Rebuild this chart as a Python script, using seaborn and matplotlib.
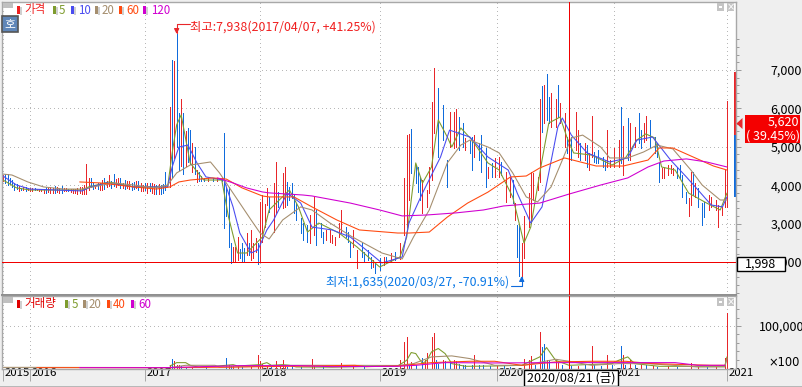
import seaborn as sns
import matplotlib.pyplot as plt
import matplotlib.patches as mp
from matplotlib.transforms import ScaledTranslation
import pandas as pd

W, H = 803, 387

# weekly bars: (week, high, low, up?)
bars_2015 = [(0,4260,4100,1),(1,4280,4060,0),(2,4280,4000,0),(3,4200,4040,0),(4,4130,3960,0),(5,4060,3880,0),
             (6,4040,3900,0),(7,3980,3850,1),(8,3940,3880,0),(9,3960,3880,1),(10,3960,3860,0),(11,3930,3880,1)]
highs_2016 = [3930,3920,3920,3900,3910,3910,3910,3960,3930,3950,3920,3970,3960,3940,3990,3930,3930,3900,3910,3900,3910,3930,3950,3950,4000,
              4560,4200,4200,4050,4000,4050,4060,4130,4180,4100,4270,4120,4280,4150,4180,4180,4050,4130,4110,4100,4050,4080,4100,4100,4060]
lows_2016 = [3860,3860,3870,3870,3860,3840,3810,3800,3830,3790,3810,3800,3830,3800,3800,3840,3850,3850,3830,3790,3790,3770,3790,3780,3760,
             3770,3870,3950,3900,3940,3900,3870,3880,3900,3950,3980,3930,3970,3950,4000,3930,3920,3900,3940,3900,3880,3900,3920,3880,3860]
dirs_2016 = [1,1,0,1,1,1,1,0,1,1,1,0,1,1,0,1,1,0,1,1,1,1,1,1,1,
             1,1,0,0,1,0,1,1,0,1,1,0,0,1,1,0,1,0,1,1,0,0,1,0,1]
bars_2017 = [(62,4000,3840,1),(63,4070,3880,0),(64,4050,3800,1),(65,4060,3850,0),(66,4050,3800,1),(67,4020,3760,1),
             (68,4000,3780,0),(69,4040,3760,1),(70,4010,3780,0),(71,4040,3790,0),(72,4350,3880,0),
             (74,6040,3950,1),(75,7260,4200,0),(76,7234,4700,1),(77,7938,5000,0),(78,5880,4400,0),(79,6245,4500,1),
             (80,5880,4300,0),(81,5400,4500,1),(82,5500,4600,0),(83,5450,4550,0),(84,5100,4350,1),(85,5000,4300,0),
             (86,4400,4090,1),(87,4350,4100,0),(88,4250,4100,0),
             (89,4180,4120,0),(91,4180,4120,1),(93,4180,4120,0),(95,4180,4120,1),(97,4180,4120,0),
             (98,5360,2880,0),(99,3950,3200,0),(100,3950,2390,0),(101,2490,1980,0),(102,2400,2030,1),(103,2380,2000,1),
             (104,2650,2050,1),(105,2350,2100,0),(106,2500,2000,0),(107,2360,2010,0),(108,2760,2190,1),(109,2500,2170,0),
             (110,2830,2050,1),(111,2500,2100,1),(112,2620,2260,1),(113,2500,1960,0),(114,3560,2030,1),(115,3740,2520,1),
             (116,3500,2900,1),(117,3930,3480,1)]
bars_2018 = [(118,3700,3310,0),(120,4055,2780,1),(121,4600,3280,1),(122,3820,3430,0),(124,4320,3400,1),(125,4470,3430,1),
             (126,4080,3480,0),(127,3955,3610,0),(128,4055,3670,0),(129,3745,3280,0),(130,3535,3095,0),(132,3145,2755,0),
             (133,3015,2575,0),(135,2965,2520,0),(136,3225,2495,1),(138,3695,2705,1),(139,3355,2445,0),(141,3015,2650,0),
             (142,2780,2495,0),(143,2835,2575,1),(145,2835,2520,1),(146,2705,2495,1),(147,2650,2445,1),(149,3015,2650,1),
             (150,3355,2755,1),(152,2910,2650,0),(153,2780,2520,0),(154,2520,2130,0),(155,2835,2390,1),(157,2310,1845,1),
             (159,2495,2130,0),(160,2260,2000,0),(162,2310,2050,0),(163,2130,1845,0),(164,2050,1870,1),(165,1975,1710,0),
             (167,2105,1790,0),(169,2130,1920,1),(170,2130,1975,0),(172,2235,2000,1),(174,2260,2050,0),(176,2495,2080,1)]
bars_2019 = [(178,4190,2705,1),(179,5305,2910,1),(180,5335,3615,1),(181,5460,4320,0),(183,4525,4055,0),(184,4470,3820,0),
             (185,4215,3615,0),(186,4135,3280,1),(188,3875,3430,1),(189,4470,3795,1),(190,6165,4135,1),(191,7050,5360,1),
             (193,6530,4735,0),(195,6090,5175,0),(197,4655,3955,0),(198,5905,4995,1),(200,5905,4970,1),(201,5985,4995,1),
             (202,5775,4915,0),(204,5620,4995,0),(205,5230,4915,1),(207,5175,4840,0),(208,5255,4395,0),(209,5305,4735,1),
             (211,5100,4655,0),(212,5305,4345,0),(214,4970,3955,0),(215,4470,4190,1),(217,4580,4215,0),(218,4710,4215,1),
             (220,4735,4215,1),(221,4600,4265,0),(223,4345,3560,1),(225,4215,3695,1),(226,4135,3535,0),(227,3535,3095,1),
             (228,2965,2130,0)]
bars_2020 = [(229,2965,1635,0),(230,2490,1640,1),(231,3200,2105,1),(233,3795,2910,1),(234,4345,3015,1),(235,4320,3615,1),
             (237,4215,3875,1),(238,6245,4085,1),(239,6585,5385,0),(240,6610,5620,1),(241,6895,5700,0),(242,6300,5620,0),
             (243,6400,5515,1),(245,6245,5515,1),(246,6610,5775,0),(247,6140,5620,1),(249,5880,4995,1),(250,5255,4840,0),
             (251,5620,4265,1),(252,5255,4655,0),(254,5905,4915,1),(255,5440,4735,1),(256,5100,4655,0),(258,5100,4655,1),
             (259,5045,4475,0),(260,4840,4395,1),(261,5800,4735,1),(262,4865,4600,0),(263,4735,4580,0),(264,4915,4580,0),
             (266,4735,4475,0),(267,4655,4395,0),(268,5440,4475,1),(269,4655,4475,1)]
bars_2021 = [(271,4970,4475,1),(273,5175,4475,1),(274,6040,4580,0),(275,5540,4265,1),(277,5750,4655,0),(278,5620,4655,1),
             (280,5515,4995,1),(282,5880,5100,0),(283,5440,4970,0),(284,5620,5125,1),(285,5800,5175,1),(287,5700,4995,0),
             (289,5255,4840,0),(290,5100,4735,0),(291,4580,4085,0),(292,4450,4190,1),(293,4450,4190,1),(295,4525,4265,1),
             (296,4525,4320,1),(297,4450,4265,1),(299,4475,4190,0),(300,4525,4190,0),(301,4265,3695,0),(303,3820,3535,0),
             (304,3670,3200,1),(305,4345,3485,1),(306,4345,3745,0),(307,4055,3695,1),(308,3930,3435,0),(310,3535,2965,0),
             (311,3560,3170,0),(313,3745,3355,1),(314,3695,3435,1),(316,3615,3355,1),(317,3485,2910,1),(319,3435,3225,1),
             (320,4395,3435,1),(321,6190,3435,1)]

# moving averages on price: week, value
ma5_week = [0,6,12,35,38,47,58,73,75,77,79,83,89,97,100,104,108,115,118,127,131,135,140,149,157,167,176,179,183,186,190,193,197,199,203,208,215,220,226,231,234,239,242,247,250,253,261,270,276,281,285,289,292,298,304,312,318,321]
ma5_val = [4136,3930,3875,3875,3955,4085,3955,3955,4840,5570,5830,4580,4135,4135,3170,2235,2235,2650,3355,3875,3435,2780,3015,2755,2390,1870,2130,2650,4580,4055,4475,5700,5255,4995,5490,5175,4580,4395,3695,2495,2910,4655,5620,5775,5255,4840,4785,4525,4710,5175,5335,5230,4475,4395,3795,3535,3355,3795]
ma10_week = [0,6,12,35,39,46,58,73,75,78,82,86,90,98,102,105,110,113,117,120,126,132,137,146,154,161,168,177,180,186,194,198,207,215,224,228,234,239,246,248,252,259,269,277,281,288,296,303,309,314,319,321]
ma10_val = [4240,4005,3900,3850,3955,4060,3955,3955,4475,4995,5045,4580,4215,4135,3435,2755,2235,2315,2835,3095,3795,3535,2910,2835,2650,2315,1975,2130,3015,3795,4735,5435,5255,4735,4395,3795,3015,3435,5515,5750,5305,4840,4605,4710,5175,5255,4655,4215,3820,3485,3435,3695]
ma20_week = [0,4,11,18,27,35,40,49,58,67,73,77,83,92,96,102,110,114,118,124,132,137,145,155,168,177,182,189,197,203,207,215,220,226,232,237,243,248,252,257,265,269,277,284,290,297,305,310,318,321]
ma20_val = [4290,4265,4085,3955,3900,3900,3955,4060,4005,3930,4005,4320,4525,4605,4320,3795,3095,2755,2600,3095,3435,3355,3015,2650,2235,2080,2650,3355,4580,5045,5175,4995,4840,4320,3695,3565,3955,4655,5230,5305,4995,4710,4710,4865,5045,4945,4395,4005,3615,3615]
ma60_week = [34,43,58,68,74,78,83,93,99,106,115,118,129,137,148,158,175,180,189,197,206,215,225,232,238,249,256,263,275,286,291,297,306,315,321]
ma60_val = [4085,4060,3955,3900,3955,4085,4135,4190,4160,3930,3720,3695,3695,3435,3095,2835,2755,2755,2780,3170,3535,3820,4215,4240,4450,4710,4605,4500,4500,4655,4970,4970,4735,4500,4395]
ma120_week = [95,102,108,115,118,133,137,154,167,177,188,201,213,222,238,251,265,277,286,293,303,312,321]
ma120_val = [4190,4060,3930,3825,3800,3745,3720,3535,3355,3200,3225,3280,3355,3460,3535,3770,4005,4190,4475,4630,4685,4605,4475]

# volume bars: (week, volume, up?)
vol_2017 = [(74,6400,1),(75,20800,0),(76,16000,1),(77,6400,1),(78,8000,1),(79,4800,0),(81,3000,0),(84,2000,1),(90,1500,0),
            (99,24000,0),(100,8000,1),(101,4000,0),(102,5000,1),(104,4000,1),(106,2000,0),(110,2000,1),(113,30400,1),
            (114,16000,1),(115,9600,1),(117,4000,1),(119,3000,0),(121,16000,1),(123,5000,1),(124,18400,1),(125,8000,1),
            (126,3000,0),(128,4000,0),(132,1500,0),(137,20800,1),(138,4000,1),(142,1500,0),(150,11200,1),(155,8000,1),(160,1500,0)]
vol_2019 = [(176,20000,1),(178,62400,1),(179,73600,1),(180,6000,0),(181,14400,1),(183,6000,0),(186,24000,0),(187,20000,1),
            (188,36000,1),(190,74400,1),(191,84000,1),(192,20000,0),(193,10000,0),(195,20000,1),(196,16000,0),(198,14000,0),
            (200,20000,1),(201,16000,1),(202,10000,0),(204,8000,0),(205,8000,0),(208,6000,0),(209,32000,1),(211,6000,0),
            (213,6000,0),(216,5000,0),(219,4000,1),(222,5000,0),(225,3000,0)]
vol_2020 = [(231,22400,1),(233,20000,1),(234,28000,1),(236,6000,0),(238,86400,1),(239,50400,0),(240,56000,0),(241,20000,1),
            (242,20000,0),(245,20000,1),(246,12000,1),(248,6000,0),(252,5000,0),(255,4000,1),(258,8000,0),(261,52000,1),
            (262,6000,0),(265,5000,0),(268,30400,1),(270,6000,0),(274,52000,0),(275,30400,1),(276,6000,0),(278,20000,1),
            (280,8000,0),(283,6000,1),(285,8000,0),(288,5000,1),(290,3000,0),(295,4000,1),(299,2500,0),(305,12000,1),
            (308,3000,1),(312,3000,0),(316,2500,1),(320,24000,1),(321,130400,1)]

vma5_week = [74,77,81,83,87,99,102,104,114,117,119,124,127,130,146,175,179,181,183,186,188,190,193,196,199,205,218,230,238,241,245,251,270,273,277,280,291,320,321]
vma5_val = [4800,12800,12800,6400,1600,6400,8000,4800,8000,12800,6400,8000,6400,2400,2000,4800,18400,36800,34400,10400,18400,38400,46400,34400,10400,4000,4800,6400,26400,48800,18400,6400,10400,18400,26400,10400,4000,4000,26400]
vma20_week = [0,12,74,81,94,96,114,125,146,175,182,190,199,207,218,231,245,251,261,273,286,308,320,321]
vma20_val = [1500,1500,1000,6400,6400,2000,4000,6400,6400,6000,10400,26400,28800,22400,6400,6400,20800,16000,6400,10400,10400,2400,2400,22400]
vma40_week = [15,72,100,137,156,161,175,190,207,218,230,245,261,276,288,314,320]
vma40_val = [800,800,2000,4800,6400,3200,4800,12800,16000,16000,6400,14400,16000,16000,10400,6400,6400]
vma60_week = [34,72,105,131,146,175,183,196,218,250,298,308,320]
vma60_val = [800,800,5600,5600,3200,4000,6400,12800,12000,12800,12800,6400,6400]

year_weeks = [0,12,63,114,167,219,271,321]
year_labels = ['2015','2016','2017','2018','2019','2020','2021','2021']
price_ticks = [2000,3000,4000,5000,6000,7000]

RED, BLUE = '#E8262A', '#0F6BDC'
OLIVE, MBLUE, TAN, ORANGE, MAG = '#7E9C2E', '#4A4CF0', '#A58E6E', '#FF4A10', '#D000D0'

sns.set_style('white')
plt.rcParams['font.family'] = ['Noto Sans CJK KR', 'DejaVu Sans']

bars = bars_2015 + [(12 + i, h, l, d) for i, (h, l, d) in enumerate(zip(highs_2016, lows_2016, dirs_2016))]
bars = bars + bars_2017 + bars_2018 + bars_2019 + bars_2020 + bars_2021
df = pd.DataFrame(bars, columns=['week', 'high', 'low', 'up'])
vols = pd.DataFrame(vol_2017 + vol_2019 + vol_2020, columns=['week', 'vol', 'up'])


def long_form(rows):
    out = []
    for name, wk, val in rows:
        out.append(pd.DataFrame({'week': wk, 'value': val, 'ma': name}))
    return pd.concat(out)


ma_df = long_form([('5', ma5_week, ma5_val), ('10', ma10_week, ma10_val), ('20', ma20_week, ma20_val),
                   ('60', ma60_week, ma60_val), ('120', ma120_week, ma120_val)])
vma_df = long_form([('5', vma5_week, vma5_val), ('20', vma20_week, vma20_val),
                    ('40', vma40_week, vma40_val), ('60', vma60_week, vma60_val)])

fig = plt.figure(figsize=(W / 100, H / 100), dpi=100, facecolor='#EFEFEF')
ax = fig.add_axes([2 / W, 1 - 295 / H, 734 / W, 293 / H], facecolor='white')
ax2 = fig.add_axes([2 / W, 1 - 369 / H, 734 / W, 73 / H], facecolor='white')

for a in (ax, ax2):
    a.set_xlim(-0.44, 325)
    a.set_xticks(year_weeks)
    a.grid(True, color='#B8B8B8', linestyle=(0, (1, 3)), linewidth=0.72, antialiased=False)
    a.yaxis.tick_right()
    for s in a.spines.values():
        s.set_color('#A8A8A8')
        s.set_linewidth(1)
ax.spines['bottom'].set_color('#8C8C8C')
ax.spines['bottom'].set_linewidth(1.4)
ax.set_ylim(1141, 8771)
ax2.set_ylim(-2381, 171400)

ax.vlines(df.week, df.low, df.high, colors=[RED if u else BLUE for u in df.up], linewidth=0.72, antialiased=False)
sns.lineplot(data=ma_df, x='week', y='value', hue='ma', hue_order=['5', '10', '20', '60', '120'],
             palette=[OLIVE, MBLUE, TAN, ORANGE, MAG], estimator=None, sort=False, legend=False, linewidth=0.78,
             ax=ax)
ax.vlines([324.5], [5335], [6950], colors=RED, linewidth=2, antialiased=False)
ax.vlines([324.5], [3720], [5310], colors=BLUE, linewidth=2, antialiased=False)

ax2.vlines(vols.week, 0, vols.vol, colors=[RED if u else BLUE for u in vols.up], linewidth=0.72, antialiased=False)
sns.lineplot(data=vma_df, x='week', y='value', hue='ma', hue_order=['5', '20', '40', '60'],
             palette=[OLIVE, TAN, ORANGE, MAG], estimator=None, sort=False, legend=False, linewidth=0.78,
             ax=ax2)

# ticks and labels
ax.set_xlabel('')
ax.set_ylabel('')
ax2.set_xlabel('')
ax2.set_ylabel('')
ax.set_yticks(price_ticks)
ax.set_yticklabels([f'{p:,}' for p in price_ticks], fontsize=9, color='black')
ax.set_yticks(list(range(1200, 7801, 200)), minor=True)
ax.tick_params(axis='y', which='major', right=True, length=3.5, width=0.7, color='#9A9A9A', pad=21.5)
ax.tick_params(axis='y', which='minor', right=True, length=2, width=0.7, color='#9A9A9A')
ax.tick_params(axis='x', bottom=False, labelbottom=False)
ax2.set_yticks([100000])
ax2.set_yticklabels(['100,000'], fontsize=9, color='black')
ax2.set_yticks([20000, 40000, 60000, 80000, 120000, 140000], minor=True)
ax2.tick_params(axis='y', which='major', right=True, length=3.5, width=0.7, color='#9A9A9A', pad=13)
ax2.tick_params(axis='y', which='minor', right=True, length=2, width=0.7, color='#9A9A9A')
ax2.tick_params(axis='x', bottom=True, labelbottom=True, length=8.5, width=0.7, color='#A8A8A8', pad=-9.5)
ax2.set_xticklabels(year_labels, fontsize=8.2, ha='left', color='black')
shift = ScaledTranslation(1.5 / 100, 0, fig.dpi_scale_trans)
for lab in ax2.get_xticklabels():
    lab.set_transform(lab.get_transform() + shift)

# crosshair
ax.axhline(1998, color='#F00000', linewidth=0.72, antialiased=False, zorder=6)
for a in (ax, ax2):
    a.axvline(251, color='#F00000', linewidth=0.72, antialiased=False, zorder=6)

# high / low callouts
ax.annotate('', xy=(77, 7938), xytext=(9.5, 7), textcoords='offset points',
            arrowprops=dict(arrowstyle='-|>,head_width=0.15,head_length=0.3', color=RED, lw=0.8, shrinkA=0, shrinkB=0,
                            connectionstyle='angle,angleA=0,angleB=90,rad=0'))
ax.annotate('최고:7,938(2017/04/07, +41.25%)', xy=(77, 7938), xytext=(9.5, 5), textcoords='offset points',
            fontsize=8.9, color='#F02020', ha='left', va='center')
ax.annotate('', xy=(230, 1635), xytext=(-8, -7), textcoords='offset points',
            arrowprops=dict(arrowstyle='-|>,head_width=0.15,head_length=0.3', color=BLUE, lw=0.8, shrinkA=0, shrinkB=0,
                            connectionstyle='angle,angleA=0,angleB=90,rad=0'))
ax.annotate('최저:1,635(2020/03/27, -70.91%)', xy=(230, 1635), xytext=(-9, -4), textcoords='offset points',
            fontsize=8.9, color='#0A78E6', ha='right', va='center')


def ftext(x, y, s, **kw):
    kw.setdefault('fontsize', 9)
    kw.setdefault('va', 'center')
    fig.text(x / W, 1 - y / H, s, **kw)


def frect(x0, y0, x1, y1, **kw):
    fig.add_artist(mp.Rectangle((x0 / W, 1 - y1 / H), (x1 - x0) / W, (y1 - y0) / H,
                                transform=fig.transFigure, linewidth=kw.pop('linewidth', 0), **kw))


def legend_row(y, items):
    for x0, tx, label, color in items:
        frect(x0 + 3, y - 3, x0 + 5, y + 5, facecolor='#D0D0D0')
        frect(x0, y - 4, x0 + 3, y + 4, facecolor=color)
        ftext(tx, y, label, color=color, fontsize=8.3)


legend_row(10, [(17, 24, '가격', '#F02020'), (53, 59, '5', OLIVE), (71, 78, '10', MBLUE), (95, 102, '20', TAN),
                (119, 126, '60', ORANGE), (143, 151, '120', MAG)])
legend_row(304, [(17, 24, '거래량', '#E00000'), (65, 72, '5', OLIVE), (83, 89, '20', TAN),
                 (107, 113, '40', ORANGE), (131, 138, '60', MAG)])

# panel widgets
frect(3, 3, 13, 8, facecolor='#C0C0C0')
frect(3, 297, 13, 303, facecolor='#C0C0C0')
frect(2, 16, 18, 32, facecolor='#5F86B8', edgecolor='#555555', linewidth=1.2)
ftext(10, 24, '호', color='white', ha='center', fontsize=8.5)
for top in (3, 298):
    frect(717, top, 724, top + 8, facecolor='#C4C4C4')
    frect(719, top + 3, 722, top + 5, facecolor='white')
    frect(727, top, 734, top + 8, facecolor='#C4C4C4')
    ftext(730.5, top + 4, '×', color='white', ha='center', fontsize=7, family='DejaVu Sans')

# price and date flags
frect(745, 115, 800, 143, facecolor='#F40000')
ftext(799, 122, '5,620', color='white', ha='right')
ftext(746, 136, '( 39.45%)', color='white')
fig.add_artist(mp.Polygon([(736.5 / W, 1 - 123.5 / H), (742.5 / W, 1 - 118 / H), (742.5 / W, 1 - 129 / H)],
                          transform=fig.transFigure, facecolor=RED, linewidth=0))
frect(737, 257, 785, 271, facecolor='white', edgecolor='black', linewidth=1)
ftext(761, 264, '1,998', color='black', ha='center')
frect(524, 370, 618, 386, facecolor='white', edgecolor='black', linewidth=1)
ftext(571, 378, '2020/08/21 (금)', color='black', ha='center')
ftext(800, 362, '×100', color='black', ha='right', family=['DejaVu Sans', 'Noto Sans CJK KR'], fontsize=8.3)
frect(0, 385.5, W, H, facecolor='#B8B8B8')

fig.savefig('out.png', dpi=100, facecolor=fig.get_facecolor())
